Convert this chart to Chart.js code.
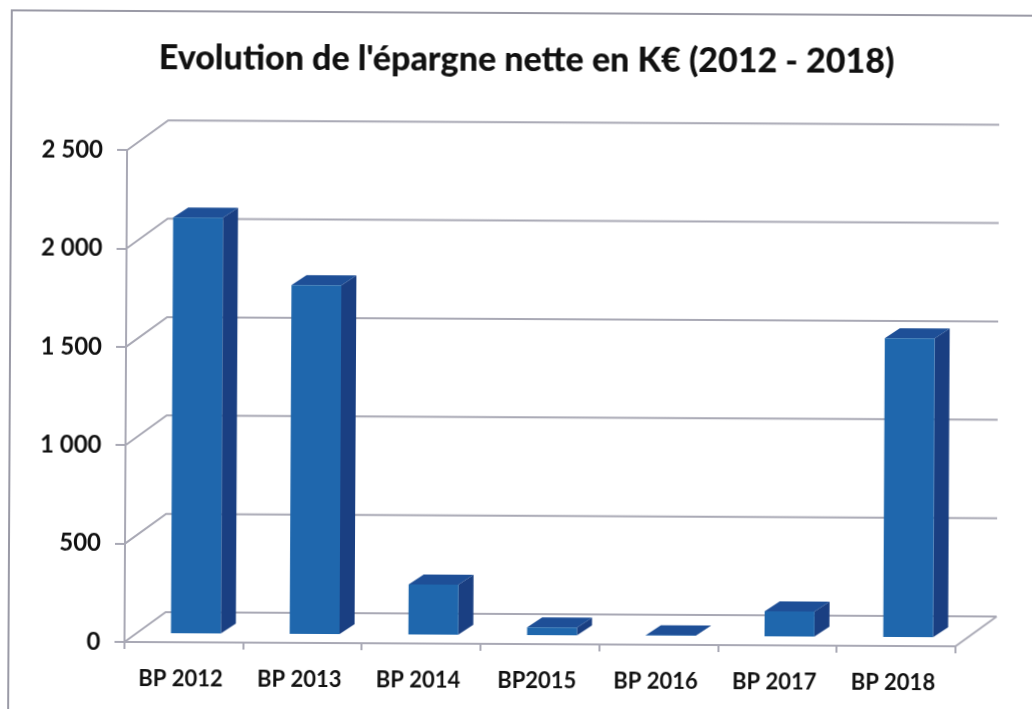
<!DOCTYPE html>
<html>
<head>
<meta charset="utf-8">
<script src="https://cdn.jsdelivr.net/npm/chart.js@4/dist/chart.umd.min.js"></script>
<style>
    html, body { margin: 0; padding: 0; width: 1032px; height: 709px; background: #fff; overflow: hidden; }
    /* the reference is a slightly crooked scan */
    #chart { display: block; transform-origin: 516px 354.5px; transform: rotate(0.3deg); }
</style>
</head>
<body>
<canvas id="chart" width="1040" height="720"></canvas>
<script>
const categories = ['BP 2012', 'BP 2013', 'BP 2014', 'BP2015', 'BP 2016', 'BP 2017', 'BP 2018'];
const epargneNette = [2119, 1778, 259, 45, 8, 132, 1524];
const chartTitle = "Evolution de l'épargne nette en K€ (2012 - 2018)";

const lineColor = '#a9a9b5';
const frontColor = '#1f67ad';
const sideColor = '#1a3f82';
const topColor = '#1e4f97';

// Depth of the fake 3D box: back wall, then front and back of the bars
const wallDepth = { x: 41, y: -30 };
const barFront = { x: 12, y: -8 };
const barDepth = { x: 15, y: -10 };

function poly(ctx, points, color) {
    ctx.fillStyle = color;
    ctx.beginPath();
    points.forEach((p, i) => i ? ctx.lineTo(p[0], p[1]) : ctx.moveTo(p[0], p[1]));
    ctx.closePath();
    ctx.fill();
}

const fake3d = {
    id: 'fake3d',
    afterLayout(chart) {
        // title sits to the right of the canvas centre
        chart.titleBlock.left = 18;
        chart.titleBlock.right = 1032;
    },
    beforeDatasetsDraw(chart) {
        const ctx = chart.ctx;
        const { left, right, bottom } = chart.chartArea;
        const yScale = chart.scales.y;

        // scan frame
        ctx.save();
        ctx.strokeStyle = '#9a9aa6';
        ctx.lineWidth = 2;
        ctx.beginPath();
        ctx.moveTo(10, 720);
        ctx.lineTo(10, 13);
        ctx.lineTo(1040, 13);
        ctx.stroke();

        // back wall gridlines
        ctx.strokeStyle = lineColor;
        ctx.lineWidth = 2;
        yScale.ticks.forEach((tick, i) => {
            const y = yScale.getPixelForTick(i);
            ctx.beginPath();
            ctx.moveTo(left, y);
            ctx.lineTo(left + wallDepth.x, y + wallDepth.y);
            ctx.lineTo(right + wallDepth.x, y + wallDepth.y);
            ctx.stroke();
        });
        // right edge of the floor
        ctx.beginPath();
        ctx.moveTo(right, bottom);
        ctx.lineTo(right + wallDepth.x, bottom + wallDepth.y);
        ctx.stroke();
        ctx.restore();

        // top and side faces, then the library draws the front faces on top
        ctx.save();
        ctx.translate(barFront.x, barFront.y);
        chart.getDatasetMeta(0).data.forEach(bar => {
            const l = bar.x - bar.width / 2;
            const r = bar.x + bar.width / 2;
            poly(ctx, [[r, bar.y], [r + barDepth.x, bar.y + barDepth.y], [r + barDepth.x, bar.base + barDepth.y], [r, bar.base]], sideColor);
            poly(ctx, [[l, bar.y], [l + barDepth.x, bar.y + barDepth.y], [r + barDepth.x, bar.y + barDepth.y], [r, bar.y]], topColor);
        });
    },
    afterDatasetsDraw(chart) {
        chart.ctx.restore();
    }
};

new Chart(document.getElementById('chart'), {
    type: 'bar',
    data: {
        labels: categories,
        datasets: [{
            data: epargneNette,
            backgroundColor: frontColor,
            barPercentage: 0.42,
            categoryPercentage: 1,
            clip: false
        }]
    },
    options: {
        responsive: false,
        animation: false,
        layout: { padding: { top: 40, left: 18, right: 83, bottom: 0 } },
        plugins: {
            legend: { display: false },
            tooltip: { enabled: false },
            title: {
                display: true,
                text: chartTitle,
                color: '#111',
                font: { family: 'Lato', size: 34, weight: '900' },
                padding: { top: 0, bottom: 71.4 }
            }
        },
        scales: {
            x: {
                afterFit: scale => { scale.height = 76; },
                border: { color: lineColor, width: 2 },
                grid: { drawOnChartArea: false, color: lineColor, lineWidth: 2, tickLength: 7 },
                ticks: {
                    color: '#111',
                    padding: 17,
                    labelOffset: -3,
                    maxRotation: 0,
                    font: { family: 'Lato', size: 22, weight: '700' }
                }
            },
            y: {
                min: 0,
                max: 2500,
                afterFit: scale => { scale.width = 108; },
                border: { color: lineColor, width: 2 },
                grid: { drawOnChartArea: false, color: lineColor, lineWidth: 2, tickLength: 10 },
                ticks: {
                    stepSize: 500,
                    color: '#111',
                    padding: 14,
                    font: { family: 'Lato', size: 24, weight: '700' },
                    callback: value => String(value).replace(/\B(?=(\d{3})+$)/, ' ')
                }
            }
        }
    },
    plugins: [fake3d]
});
</script>
</body>
</html>
